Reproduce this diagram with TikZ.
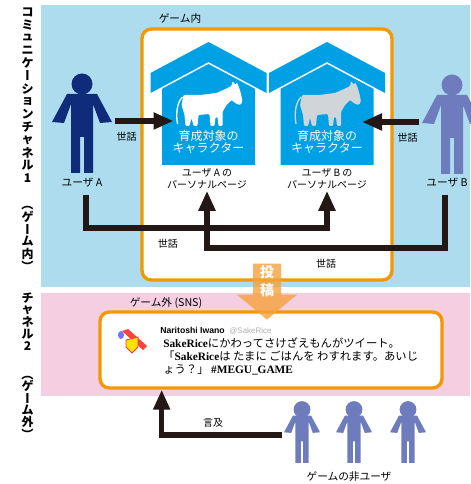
\documentclass[tikz,border=0pt]{standalone}
\usepackage{fontspec}
\usepackage{graphicx}
\setmainfont{Noto Sans CJK JP}
\newfontfamily\latinserif{Liberation Serif}
\newfontfamily\latinsans{Liberation Sans}
\usetikzlibrary{arrows.meta,positioning,fit}

\definecolor{bandblue}{RGB}{174,220,239}
\definecolor{bandpink}{RGB}{246,206,226}
\definecolor{frameorange}{RGB}{243,152,0}
\definecolor{hutblue}{RGB}{0,160,228}
\definecolor{userdark}{RGB}{14,44,122}
\definecolor{userlight}{RGB}{110,124,190}
\definecolor{horsegrey}{RGB}{208,213,217}
\definecolor{postorange}{RGB}{245,162,62}
\definecolor{arrowblack}{RGB}{35,24,21}

% turn a glyph on its side for the vertical captions
\newcommand{\tate}[1]{\rotatebox[origin=c]{-90}{\rule[-0.12em]{0pt}{1em}#1}}

\begin{document}
\begin{tikzpicture}[x=0.75pt,y=-0.75pt]
	\tikzstyle{gamebox} = [draw=frameorange, line width=2.5pt, rounded corners=7pt, fill=white, inner sep=0]
	\tikzstyle{tatechar} = [inner sep=0, font=\bfseries\fontsize{9}{9}\selectfont]
	\tikzstyle{tagtext} = [inner sep=1pt, font=\fontsize{8}{9}\selectfont]
	\tikzstyle{pagenote} = [inner sep=1pt, align=center, font=\fontsize{7.5}{9}\selectfont]
	\tikzstyle{care} = [line width=4pt, draw=arrowblack, -{Triangle[length=15pt,width=12pt]}]
	\tikzstyle{carelabel} = [inner sep=1pt, font=\fontsize{7.5}{8}\selectfont]
	\tikzstyle{hutnote} = [inner sep=0, text=white, align=center, font=\fontsize{9}{9}\selectfont]
	\tikzstyle{postarrow} = [fill=postorange, fill opacity=0.8]
	\tikzstyle{postnote} = [inner sep=1pt, text=white, align=center, font=\bfseries\fontsize{10.5}{13.5}\selectfont]
	\tikzstyle{tweettext} = [inner sep=0, align=left, font=\fontsize{8.5}{10.1}\selectfont]

	\tikzset{
		pics/person/.style={code={
			\fill[#1] (0,0) circle (\headr);
			\fill[#1] (-15,10) -- (15,10) -- (30,38) -- (18,39) -- (11,20) -- (11,89) -- (2,89) -- (2,53)
				-- (-2,53) -- (-2,89) -- (-11,89) -- (-11,20) -- (-18,39) -- (-30,38) -- cycle;
			\coordinate (-west) at (-33,37);
			\coordinate (-east) at (33,37);
		}},
		pics/hut/.style={code={
			\fill[hutblue] (-58,31) -- (0,0) -- (58,31) -- (58,51) -- (0,20) -- (-58,51) -- cycle;
			\fill[hutblue] (-46.5,123) -- (-46.5,46.8) -- (0,22) -- (46.5,46.8) -- (46.5,123) -- cycle;
			% horse
			\fill[#1, rounded corners=0.8pt] (-25,53) -- (-8,53) -- (8,51) -- (17,47) -- (23,44) -- (24,39) -- (27,43)
				-- (28,40) -- (30,44) -- (32,50) -- (34,59) -- (32,63) -- (28,62) -- (23,58) -- (18,63) -- (14,70) -- (14,84)
				-- (10,84) -- (9,75) -- (7,75) -- (6,84) -- (2,84) -- (1,72) -- (-10,73) -- (-11,84) -- (-15,84)
				-- (-17,76) -- (-19,84) -- (-23,84) -- (-24,73) -- (-27,63) -- cycle;
			\draw[#1, line width=1pt] (-26,55) .. controls (-31,60) and (-33,70) .. (-31,82);
			\node[hutnote] (-note) at (0,100) {育成対象の\\キャラクター};
			\coordinate (-west) at (-35,78);
			\coordinate (-east) at (35,78);
		}}
	}

	\useasboundingbox (0,0) rectangle (470,484);

	% the two channels
	\fill[bandblue] (41,5) rectangle (470,287);
	\fill[bandpink] (41,293) rectangle (470,396);

	\foreach \c [count=\i from 0] in {コ,ミ,ュ,ニ,ケ,{\tate{ー}},シ,ョ,ン,チ,ャ,ネ,ル,1}
		\node[tatechar] (one\i) at (27.5,{12+12.8*\i}) {\c};
	\foreach \c [count=\i from 0] in {{\tate{（}},ゲ,{\tate{ー}},ム,内,{\tate{）}}}
		\node[tatechar] (onein\i) at (27.5,{204+12.5*\i}) {\c};
	\foreach \c [count=\i from 0] in {チ,ャ,ネ,ル,2}
		\node[tatechar] (two\i) at (27.5,{298+12*\i}) {\c};
	\foreach \c [count=\i from 0] in {{\tate{（}},ゲ,{\tate{ー}},ム,外,{\tate{）}}}
		\node[tatechar] (twoout\i) at (27.5,{374+12*\i}) {\c};

	% in game
	\node[gamebox, fit={(142,29) (392,280)}] (game) {};
	\node[tagtext] (ingame) at (180,18) {ゲーム内};

	\pic (h1) at (208.5,42) {hut=white};
	\pic (h2) at (327,42) {hut=horsegrey};
	\node[pagenote] (pageA) at (207,179) {ユーザ A の\\パーソナルページ};
	\node[pagenote] (pageB) at (327,179) {ユーザ B の\\パーソナルページ};

	\def\headr{10.5}
	\pic (userA) at (82,84) {person=userdark};
	\pic (userB) at (452,85) {person=userlight};
	\node[tagtext] (labA) at (82,183) {ユーザ A};
	\node[tagtext] (labB) at (447,183) {ユーザ B};

	\draw[care] (userA-east) -- node[carelabel, pos=0.2, below=5pt] {世話} (userA-east -| h1-west);
	\draw[care] (userB-west) -- node[carelabel, pos=0.2, below=5pt] {世話} (userB-west -| h2-east);

	\coordinate (low1) at (0,228);
	\coordinate (low2) at (0,248);
	\draw[care] ([shift={(3pt,-4pt)}]labA.south) |- node[carelabel, pos=0.67, below=5pt] {世話}
		(low1 -| pageB.south) -- (pageB.south);
	\draw[care] ([shift={(-1.5pt,-4pt)}]labB.south) |- node[carelabel, pos=0.75, below=5pt] {世話}
		(low2 -| pageA.south) -- (pageA.south);

	% outside the game
	\node[gamebox, fit={(100,312) (442,388)}] (tweet) {};
	\node[tagtext] (outgame) at (166,303) {ゲーム外 (SNS)};

	\fill[blue!55] (121,335) ellipse (3 and 4);
	\fill[red!75] (122,331) -- (128,329) -- (147,346) -- (143,350) -- cycle;
	\filldraw[fill=yellow!85!orange, draw=red!80, line width=0.6pt] (126,340) -- (138,337) -- (138,347) -- (132,353) -- (126,347) -- cycle;

	\node[anchor=west, inner sep=0, font=\latinsans\bfseries\fontsize{6.5}{8}\selectfont] (author) at (160,330) {Naritoshi Iwano};
	\node[base right=3pt of author, inner sep=0, text=black!30, font=\latinsans\fontsize{6}{8}\selectfont] (handle) {@SakeRice};
	\node[tweettext, anchor=north west] (body) at (163,337)
		{{\latinserif\bfseries SakeRice}にかわってさけざえもんがツイート。\\
		「{\latinserif\bfseries SakeRice}は たまに ごはんを わすれます。あいじ\\
		ょう？」 {\latinserif\bfseries \#MEGU\_GAME}};

	\def\headr{14}
	\foreach \x [count=\i] in {302,354,408}
		\pic[scale=0.6] (nu\i) at (\x,409.5) {person=userlight};
	\node[tagtext] (nonusers) at (349,477) {ゲームの非ユーザ};

	\draw[care] ([yshift=-2.5pt]nu1-west) -| node[carelabel, pos=0.287, above=3pt] {言及}
		([xshift=47.5pt]tweet.south west);

	% posting from the game to the timeline
	\coordinate (post) at ([yshift=13.5pt]game.south);
	\fill[postarrow] (post) ++(-14,0) -- ++(28,0) -- ++(0,31) -- ++(16,0) -- ++(-30,25) -- ++(-30,-25) -- ++(16,0) -- cycle;
	\node[postnote, anchor=north] (postnote) at (post) {投\\稿};
\end{tikzpicture}
\end{document}
